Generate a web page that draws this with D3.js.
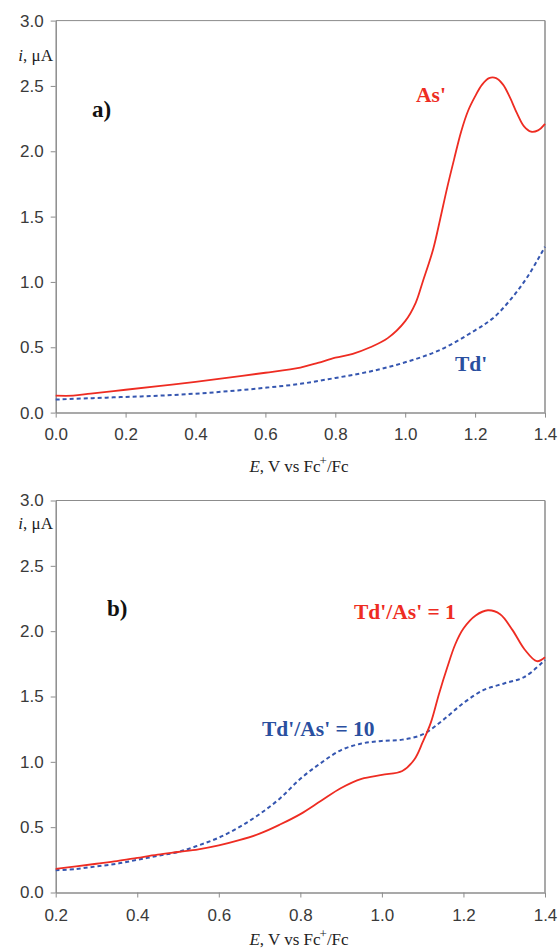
<!DOCTYPE html>
<html>
<head>
<meta charset="utf-8">
<script src="https://cdn.jsdelivr.net/npm/d3@7"></script>
<style>
  body { margin: 0; background: #fff; }
  .tick text { font-family: "Liberation Sans", Arial, sans-serif; font-size: 17px; fill: #3a3a3a; }
  .serif { font-family: "Liberation Serif", "Times New Roman", serif; }
</style>
</head>
<body>
<svg id="chart" width="559" height="948"></svg>
<script>
// panel a) potentials, V
const potA = [0.0, 0.05, 0.1, 0.2, 0.3, 0.4, 0.5, 0.6, 0.7, 0.75, 0.8, 0.85, 0.9, 0.95, 1.0, 1.03, 1.05, 1.08, 1.1, 1.12, 1.14, 1.16, 1.18, 1.2, 1.22, 1.24, 1.26, 1.28, 1.3, 1.32, 1.34, 1.36, 1.38, 1.4];
const asCurrent = [0.13, 0.13, 0.145, 0.175, 0.205, 0.235, 0.27, 0.305, 0.345, 0.38, 0.42, 0.45, 0.5, 0.57, 0.7, 0.84, 1.0, 1.25, 1.48, 1.72, 1.94, 2.15, 2.31, 2.42, 2.51, 2.56, 2.56, 2.51, 2.41, 2.29, 2.19, 2.15, 2.16, 2.21];
const potTd = [0.0, 0.1, 0.2, 0.3, 0.4, 0.5, 0.6, 0.7, 0.8, 0.9, 1.0, 1.1, 1.2, 1.25, 1.3, 1.35, 1.4];
const tdCurrent = [0.10, 0.11, 0.12, 0.13, 0.145, 0.165, 0.19, 0.22, 0.265, 0.315, 0.385, 0.48, 0.63, 0.72, 0.86, 1.04, 1.27];

// panel b) potentials, V
const potB1 = [0.2, 0.25, 0.3, 0.35, 0.4, 0.45, 0.5, 0.55, 0.6, 0.65, 0.7, 0.75, 0.8, 0.85, 0.9, 0.95, 1.0, 1.05, 1.08, 1.1, 1.12, 1.14, 1.16, 1.18, 1.2, 1.23, 1.26, 1.29, 1.32, 1.35, 1.38, 1.4];
const ratio1Current = [0.18, 0.2, 0.22, 0.24, 0.265, 0.29, 0.31, 0.33, 0.36, 0.4, 0.45, 0.52, 0.6, 0.7, 0.8, 0.87, 0.9, 0.93, 1.02, 1.15, 1.3, 1.52, 1.72, 1.9, 2.02, 2.12, 2.16, 2.13, 2.01, 1.86, 1.77, 1.8];
const potB10 = [0.2, 0.25, 0.3, 0.35, 0.4, 0.45, 0.5, 0.55, 0.6, 0.65, 0.7, 0.75, 0.8, 0.85, 0.9, 0.95, 1.0, 1.05, 1.1, 1.15, 1.2, 1.25, 1.3, 1.35, 1.4];
const ratio10Current = [0.17, 0.18, 0.2, 0.22, 0.25, 0.28, 0.31, 0.36, 0.42, 0.5, 0.6, 0.72, 0.87, 0.99, 1.09, 1.14, 1.16, 1.17, 1.21, 1.32, 1.45, 1.55, 1.6, 1.65, 1.78];

const yTicks = [0, 0.5, 1.0, 1.5, 2.0, 2.5, 3.0];
const xTicksA = [0, 0.2, 0.4, 0.6, 0.8, 1.0, 1.2, 1.4];
const xTicksB = [0.2, 0.4, 0.6, 0.8, 1.0, 1.2, 1.4];

const RED = "#ee2c22";
const BLUE = "#3556b0";
const BLUE_TXT = "#2a4f9f";
const AXIS = "#8c8c8c";

const svg = d3.select("#chart");

// one panel; top = pixel y of the 3.0 line
function drawPanel(top, xDomain, xTicks, series, opt) {
  const left = 55.7, right = 545, h = 392;
  const x = d3.scaleLinear().domain(xDomain).range([left, right]);
  const y = d3.scaleLinear().domain([0, 3]).range([top + h, top]);
  const g = svg.append("g");

  // frame top and right
  g.append("line").attr("x1", left).attr("x2", right).attr("y1", top).attr("y2", top)
    .attr("stroke", AXIS).attr("stroke-width", 1);
  g.append("line").attr("x1", right).attr("x2", right).attr("y1", top).attr("y2", top + h)
    .attr("stroke", AXIS).attr("stroke-width", 1.5);

  const yAxis = g.append("g").attr("transform", `translate(${left},0)`)
    .call(d3.axisLeft(y).tickValues(yTicks).tickFormat(d3.format(".1f")).tickSize(5).tickSizeOuter(0).tickPadding(7));
  const xAxis = g.append("g").attr("transform", `translate(0,${top + h})`)
    .call(d3.axisBottom(x).tickValues(xTicks).tickFormat(d3.format(".1f")).tickSize(5).tickSizeOuter(0).tickPadding(opt.xPad));
  [yAxis, xAxis].forEach(a => {
    a.select(".domain").attr("stroke", AXIS).attr("stroke-width", 1.5);
    a.selectAll(".tick line").attr("stroke", AXIS);
  });

  // axis titles
  const yt = g.append("text").attr("class", "serif").attr("x", 53).attr("y", top + opt.yTitleDy)
    .attr("text-anchor", "end").attr("font-size", 17).attr("fill", "#222");
  yt.append("tspan").attr("font-style", "italic").text("i");
  yt.append("tspan").text(", μA");

  const xt = g.append("text").attr("class", "serif").attr("x", 299).attr("y", top + h + opt.xTitleDy)
    .attr("text-anchor", "middle").attr("font-size", 17).attr("fill", "#222");
  xt.append("tspan").attr("font-style", "italic").text("E");
  xt.append("tspan").text(", V vs Fc");
  xt.append("tspan").attr("dy", -7).attr("dx", -1).attr("font-size", 13).text("+");
  xt.append("tspan").attr("dy", 7).text("/Fc");

  const line = d3.line().x(d => x(d[0])).y(d => y(d[1])).curve(d3.curveCatmullRom.alpha(0.5));
  series.forEach(s => {
    g.append("path").datum(d3.zip(s.x, s.y))
      .attr("d", line).attr("fill", "none")
      .attr("stroke", s.color).attr("stroke-width", s.dash ? 2 : 1.8)
      .attr("stroke-dasharray", s.dash ? "4,3" : null);
  });

  g.append("text").attr("class", "serif").attr("x", opt.letter.x).attr("y", top + opt.letter.dy)
    .attr("font-size", 23).attr("font-weight", "bold").attr("fill", "#111").text(opt.letter.text);

  opt.labels.forEach(l => {
    g.append("text").attr("class", "serif").attr("x", l.x).attr("y", top + l.dy)
      .attr("font-size", 21.5).attr("font-weight", "bold").attr("fill", l.color).text(l.text);
  });
}

drawPanel(20.6, [0, 1.4], xTicksA, [
  { x: potTd, y: tdCurrent, color: BLUE, dash: true },
  { x: potA, y: asCurrent, color: RED, dash: false }
], {
  xPad: 10, yTitleDy: 40, xTitleDy: 59,
  letter: { text: "a)", x: 92, dy: 96 },
  labels: [
    { text: "As'", x: 416, dy: 81, color: RED },
    { text: "Td'", x: 455, dy: 350, color: BLUE_TXT }
  ]
});

drawPanel(500.5, [0.2, 1.4], xTicksB, [
  { x: potB10, y: ratio10Current, color: BLUE, dash: true },
  { x: potB1, y: ratio1Current, color: RED, dash: false }
], {
  xPad: 11, yTitleDy: 28, xTitleDy: 52,
  letter: { text: "b)", x: 107, dy: 115 },
  labels: [
    { text: "Td'/As' = 1", x: 354, dy: 118, color: RED },
    { text: "Td'/As' = 10", x: 262, dy: 235, color: BLUE_TXT }
  ]
});
</script>
</body>
</html>
